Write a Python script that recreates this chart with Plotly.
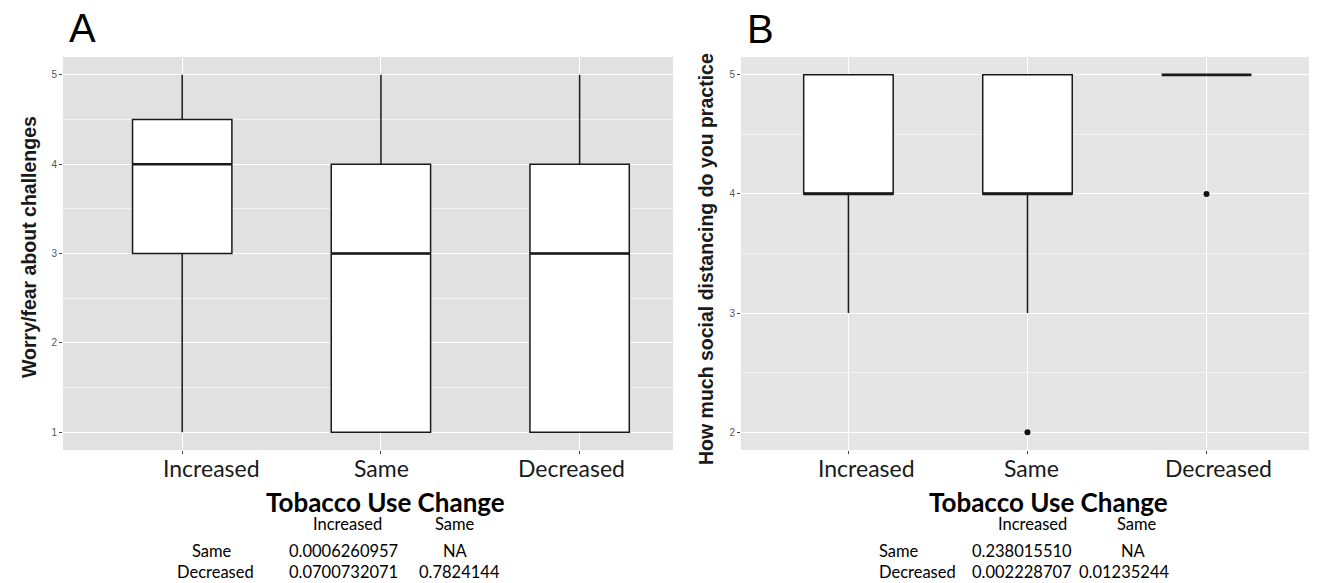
import plotly.graph_objects as go

# page body has an 8px margin; figure is sized so it ends at the window edge
OFF = 8
W, H = 1317 - OFF, 583 - OFF

categories = ["Increased", "Same", "Decreased"]
positions = [1, 2, 3]

# Panel A: Worry/fear about challenges
a_lower = [1, 1, 1]
a_q1 = [3, 1, 1]
a_median = [4, 3, 3]
a_q3 = [4.5, 4, 4]
a_upper = [5, 5, 5]
a_outlier_x = []
a_outlier_y = []

# Panel B: How much social distancing do you practice
b_lower = [3, 3, 5]
b_q1 = [4, 4, 5]
b_median = [4, 4, 5]
b_q3 = [5, 5, 5]
b_upper = [5, 5, 5]
b_outlier_x = [2, 3]
b_outlier_y = [2, 4]

a_yticks = [1, 2, 3, 4, 5]
b_yticks = [2, 3, 4, 5]

a_table = [["", "Increased", "Same"],
           ["Same", "0.0006260957", "NA"],
           ["Decreased", "0.0700732071", "0.7824144"]]
b_table = [["", "Increased", "Same"],
           ["Same", "0.238015510", "NA"],
           ["Decreased", "0.002228707", "0.01235244"]]

BOX_W = 0.5


def px(x):
    return (x - OFF) / W


def py(y):
    return 1 - (y - OFF) / H


fig = go.Figure()


def add_panel(xa, ya, lower, q1, med, q3, upper, ox, oy):
    fig.add_trace(go.Box(
        x=positions, q1=q1, median=med, q3=q3, lowerfence=lower, upperfence=upper,
        width=BOX_W, fillcolor="white", line=dict(color="#1a1a1a", width=1.5),
        whiskerwidth=0, boxpoints=False, xaxis=xa, yaxis=ya, showlegend=False,
        hoverinfo="skip"))
    mx, my = [], []
    for p, m in zip(positions, med):
        mx += [p - BOX_W / 2, p + BOX_W / 2, None]
        my += [m, m, None]
    fig.add_trace(go.Scatter(x=mx, y=my, mode="lines",
                             line=dict(color="#1a1a1a", width=2.6),
                             xaxis=xa, yaxis=ya, showlegend=False, hoverinfo="skip"))
    if ox:
        fig.add_trace(go.Scatter(x=ox, y=oy, mode="markers",
                                 marker=dict(color="#111", size=6),
                                 xaxis=xa, yaxis=ya, showlegend=False))


add_panel("x", "y", a_lower, a_q1, a_median, a_q3, a_upper, a_outlier_x, a_outlier_y)
add_panel("x2", "y2", b_lower, b_q1, b_median, b_q3, b_upper, b_outlier_x, b_outlier_y)

ydom = [py(450), py(57)]

xcommon = dict(tickvals=positions, ticktext=categories, showticklabels=False,
               showgrid=True, gridcolor="white",
               gridwidth=1.2, zeroline=False, ticks="outside", ticklen=3, tickcolor="#444",
               showline=False)
ycommon = dict(showgrid=True, gridcolor="white", gridwidth=1.2, zeroline=False,
               ticks="outside", ticklen=3, tickcolor="#444",
               tickfont=dict(family="Liberation Sans", size=10, color="#555"),
               minor=dict(dtick=0.5, tick0=0, showgrid=True, gridcolor="#f2f2f2", gridwidth=0.6))

fig.update_layout(
    width=W, height=H, margin=dict(l=0, r=0, t=0, b=0),
    paper_bgcolor="white",
    xaxis=dict(domain=[px(63), px(673)], range=[0.4, 3.47], anchor="y", **xcommon),
    yaxis=dict(domain=ydom, range=[0.8, 5.2], tickvals=a_yticks, anchor="x", **ycommon),
    xaxis2=dict(domain=[px(741), 1.0], range=[0.4, 3.617], anchor="y2", **xcommon),
    yaxis2=dict(domain=ydom, range=[1.85, 5.15], tickvals=b_yticks, anchor="x2", **ycommon),
    shapes=[
        dict(type="rect", xref="x domain", yref="y domain", x0=0, x1=1, y0=0, y1=1,
             fillcolor="#E1E1E1", line=dict(width=0), layer="below"),
        dict(type="rect", xref="x2 domain", yref="y2 domain", x0=0, x1=1, y0=0, y1=1,
             fillcolor="#E5E5E5", line=dict(width=0), layer="below"),
    ],
)

ann = []
# Panel letters
ann.append(dict(text="A", x=px(67), y=py(52), xanchor="left", yanchor="bottom",
                font=dict(family="Liberation Sans", size=40, color="black")))
ann.append(dict(text="B", x=px(745), y=py(53), xanchor="left", yanchor="bottom",
                font=dict(family="Liberation Sans", size=40, color="black")))
# Y axis titles
ann.append(dict(text="<b>Worry/fear about challenges</b>", x=px(29), y=py(247), textangle=-90,
                xanchor="center", yanchor="middle",
                font=dict(family="Liberation Sans", size=19.5, color="#1a1a1a")))
ann.append(dict(text="<b>How much social distancing do you practice</b>", x=px(706), y=py(259),
                textangle=-90, xanchor="center", yanchor="middle",
                font=dict(family="Liberation Sans", size=19.5, color="#1a1a1a")))
# Category labels under each panel (as placed in the figure)
a_label_x = [211, 381, 571]
b_label_x = [866, 1031, 1218]
for cat, xa, xb in zip(categories, a_label_x, b_label_x):
    for xx in (xa, xb):
        ann.append(dict(text=cat, x=px(xx), y=py(468), xanchor="center", yanchor="middle",
                        font=dict(family="Lato", size=23, color="#1a1a1a")))
# X axis titles
ann.append(dict(text="<b>Tobacco Use Change</b>", x=px(385), y=py(502), xanchor="center",
                yanchor="middle", font=dict(family="Lato", size=26, color="black")))
ann.append(dict(text="<b>Tobacco Use Change</b>", x=px(1048), y=py(502), xanchor="center",
                yanchor="middle", font=dict(family="Lato", size=26, color="black")))


def add_table(tbl, hdr_x, rowlab_x, col1_x, col2, row_y):
    tf = dict(family="Lato", size=16.5, color="black")
    ann.append(dict(text=tbl[0][1], x=px(hdr_x[0]), y=py(row_y[0]), xanchor="center",
                    yanchor="middle", font=tf))
    ann.append(dict(text=tbl[0][2], x=px(hdr_x[1]), y=py(row_y[0]), xanchor="center",
                    yanchor="middle", font=tf))
    for r in (1, 2):
        ann.append(dict(text=tbl[r][0], x=px(rowlab_x[r - 1]), y=py(row_y[r]), xanchor="left",
                        yanchor="middle", font=tf))
        ann.append(dict(text=tbl[r][1], x=px(col1_x), y=py(row_y[r]), xanchor="left",
                        yanchor="middle", font=tf))
    ann.append(dict(text=tbl[1][2], x=px(col2[0]), y=py(row_y[1]), xanchor="center",
                    yanchor="middle", font=tf))
    ann.append(dict(text=tbl[2][2], x=px(col2[1]), y=py(row_y[2]), xanchor="left",
                    yanchor="middle", font=tf))


add_table(a_table, (347, 455), (190, 175), 287, (455, 417), (524, 551, 572))
add_table(b_table, (1032, 1137), (877, 877), 970, (1133, 1077), (524, 551, 572))

for a in ann:
    a.update(xref="paper", yref="paper", showarrow=False)
fig.update_layout(annotations=ann)

fig.write_html("out.html")
